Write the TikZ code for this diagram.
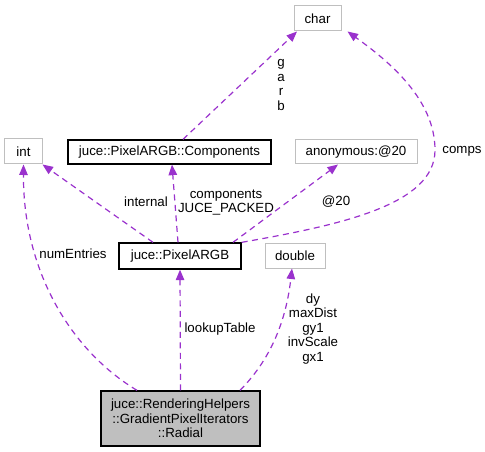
\documentclass[tikz,border=0pt]{standalone}
\usepackage{fontspec}
\setmainfont{Liberation Sans}
\usetikzlibrary{arrows.meta}
\definecolor{edgecol}{HTML}{9A32CD}
\definecolor{boxgray}{HTML}{BFBFBF}
\tikzset{
  box/.style={draw=boxgray, line width=1bp, fill=white, inner sep=0pt, font=\fontsize{13.3bp}{15bp}\selectfont, text=black},
  mainbox/.style={draw=black, line width=1.3bp, fill=white, inner sep=0pt, font=\fontsize{13.3bp}{15bp}\selectfont},
  edge/.style={draw=edgecol, line width=1.2bp, dash pattern=on 6bp off 4.5bp, -{Triangle[length=10.5bp,width=8.5bp]}},
  lbl/.style={font=\fontsize{13.3bp}{14.5bp}\selectfont, inner sep=0pt, align=center},
}
\begin{document}
\begin{tikzpicture}[x=1bp,y=-1bp]
\useasboundingbox (0,0) rectangle (485,452);
\node[box, minimum width=47bp, minimum height=25bp] (char) at (317.5,18.5) {char};
\node[box, minimum width=37bp, minimum height=25bp] (int) at (23.5,151.5) {int};
\node[mainbox, minimum width=203bp, minimum height=24bp] (comp) at (169.5,152) {juce::PixelARGB::Components};
\node[box, minimum width=122bp, minimum height=24bp] (anon) at (356,152) {anonymous:@20};
\node[mainbox, minimum width=122bp, minimum height=26bp] (pix) at (180,256) {juce::PixelARGB};
\node[box, minimum width=60bp, minimum height=25bp] (dbl) at (295,255.5) {double};
\node[mainbox, fill=boxgray, minimum width=159bp, minimum height=55bp, align=center, font=\fontsize{13.3bp}{14.5bp}\selectfont] (radial) at (180.5,418.5) {juce::RenderingHelpers\\::GradientPixelIterators\\::Radial};

\draw[edge] ([xshift=13.5bp]comp.north) -- ([xshift=-20.5bp]char.south);
\draw[edge] (pix.north east) .. controls (340,225) and (435,205) .. (435,150) .. controls (435,100) and (390,62) .. ([xshift=6bp]char.south east);
\draw[edge] ([xshift=-27bp]pix.north) -- (int.south east);
\draw[edge] ([xshift=-2bp]pix.north) -- ([xshift=2.5bp]comp.south);
\draw[edge] ([xshift=53bp]pix.north) -- ([xshift=-18bp]anon.south);
\draw[edge] ([xshift=-43.5bp]radial.north) .. controls (70,350) and (23,270) .. (int.south);
\draw[edge] (radial.north) -- (pix.south);
\draw[edge] ([xshift=59.5bp]radial.north) .. controls (265,365) and (285,330) .. ([xshift=-3bp]dbl.south);

\node[lbl] (lg) at (281,85) {g\\a\\r\\b};
\node[lbl] (lcomps) at (462,151) {comps};
\node[lbl] (linternal) at (146,202) {internal};
\node[lbl] (lcomponents) at (226,202.5) {components\\JUCE\_PACKED};
\node[lbl] (l20) at (336,202) {@20};
\node[lbl] (lnum) at (73,254) {numEntries};
\node[lbl] (llookup) at (220,329) {lookupTable};
\node[lbl] (ldbl) at (313,329) {dy\\maxDist\\gy1\\invScale\\gx1};
\end{tikzpicture}
\end{document}
